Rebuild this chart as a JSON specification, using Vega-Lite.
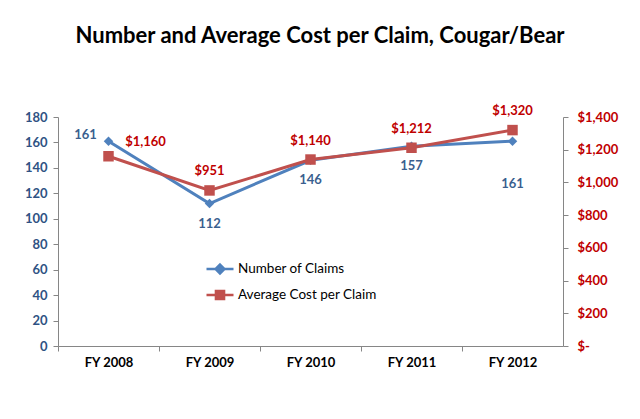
{
  "$schema": "https://vega.github.io/schema/vega-lite/v6.json",
  "autosize": "none",
  "width": 505,
  "height": 229,
  "padding": {"left": 58, "top": 117, "right": 77, "bottom": 73},
  "background": "white",
  "config": {"view": {"stroke": null}, "font": "Lato"},
  "title": {"text": "Number and Average Cost per Claim, Cougar/Bear", "font": "Lato", "fontSize": 22, "fontWeight": "bold", "color": "#000000", "anchor": "middle", "frame": "group", "dx": 9.5, "offset": 57},
  "data": {"values": [
    {"year": "FY 2008", "claims": 161, "cost": 1160},
    {"year": "FY 2009", "claims": 112, "cost": 951},
    {"year": "FY 2010", "claims": 146, "cost": 1140},
    {"year": "FY 2011", "claims": 157, "cost": 1212},
    {"year": "FY 2012", "claims": 161, "cost": 1320}
  ]},
  "encoding": {
    "x": {"field": "year", "type": "nominal", "scale": {"type": "band", "paddingInner": 0, "paddingOuter": 0},
      "axis": {"title": null, "labelAngle": 0, "labelFont": "Lato", "labelFontSize": 13, "labelFontWeight": "bold", "labelColor": "#000000", "domainColor": "#868686", "tickColor": "#868686", "tickSize": 5, "tickOffset": -50.5, "labelOffset": 50.5, "labelPadding": 5}}
  },
  "layer": [
    {
      "encoding": {
        "y": {"field": "claims", "type": "quantitative", "scale": {"domain": [0, 180]},
          "axis": {"title": null, "values": [0,20,40,60,80,100,120,140,160,180], "grid": false, "labelFont": "Lato", "labelFontSize": 13, "labelFontWeight": "bold", "labelColor": "#2F5283", "domainColor": "#868686", "tickColor": "#868686", "tickSize": 5, "labelPadding": 6}}
      },
      "layer": [
        {"mark": {"type": "line", "strokeWidth": 3}, "encoding": {"color": {"datum": "Number of Claims", "scale": {"domain": ["Number of Claims", "Average Cost per Claim"], "range": ["#4F81BD", "#C0504D"]},
          "legend": {"title": null, "orient": "none", "legendX": 147, "legendY": 137, "padding": 0, "rowPadding": 1, "symbolSize": 729, "symbolStrokeWidth": 2.5, "labelFont": "Lato", "labelFontSize": 13.5, "labelColor": "#000000", "labelOffset": 3,
            "encode": {"symbols": {"update": {
              "shape": {"signal": "datum.value === 'Number of Claims' ? 'M-1,0H1M0,-0.33L0.33,0L0,0.33L-0.33,0Z' : 'M-1,0H1M-0.3,-0.3H0.3V0.3H-0.3Z'"},
              "fill": {"signal": "datum.value === 'Number of Claims' ? '#4F81BD' : '#C0504D'"},
              "stroke": {"signal": "datum.value === 'Number of Claims' ? '#4F81BD' : '#C0504D'"},
              "opacity": {"value": 1}, "fillOpacity": {"value": 1}, "strokeOpacity": {"value": 1}}}}}}}},
        {"mark": {"type": "point", "shape": "diamond", "filled": true, "size": 90, "opacity": 1}, "encoding": {"color": {"datum": "Number of Claims"}}},
        {"transform": [{"filter": "datum.year === 'FY 2008'"}], "mark": {"type": "text", "dx": -23, "dy": -6, "font": "Lato", "fontSize": 13, "fontWeight": "bold", "color": "#3A5F8F"}, "encoding": {"text": {"field": "claims"}}},
        {"transform": [{"filter": "datum.year !== 'FY 2008' && datum.year !== 'FY 2012'"}], "mark": {"type": "text", "dy": 20, "font": "Lato", "fontSize": 13, "fontWeight": "bold", "color": "#3A5F8F"}, "encoding": {"text": {"field": "claims"}}},
        {"transform": [{"filter": "datum.year === 'FY 2012'"}], "mark": {"type": "text", "dy": 43, "font": "Lato", "fontSize": 13, "fontWeight": "bold", "color": "#3A5F8F"}, "encoding": {"text": {"field": "claims"}}}
      ]
    },
    {
      "encoding": {
        "y": {"field": "cost", "type": "quantitative", "scale": {"domain": [0, 1400]},
          "axis": {"title": null, "orient": "right", "values": [0,200,400,600,800,1000,1200,1400], "grid": false, "labelExpr": "datum.value === 0 ? '$-' : '$' + format(datum.value, ',')", "labelFont": "Lato", "labelFontSize": 13, "labelFontWeight": "bold", "labelColor": "#C00000", "domainColor": "#868686", "tickColor": "#868686", "tickSize": 5, "labelPadding": 9}}
      },
      "layer": [
        {"mark": {"type": "line", "strokeWidth": 3}, "encoding": {"color": {"datum": "Average Cost per Claim"}}},
        {"mark": {"type": "point", "shape": "square", "filled": true, "size": 110, "opacity": 1}, "encoding": {"color": {"datum": "Average Cost per Claim"}}},
        {"transform": [{"filter": "datum.year === 'FY 2008'"}], "mark": {"type": "text", "dx": 37, "dy": -14, "font": "Lato", "fontSize": 13, "fontWeight": "bold", "color": "#C00000"}, "encoding": {"text": {"field": "cost", "format": "$,.0f"}}},
        {"transform": [{"filter": "datum.year !== 'FY 2008'"}], "mark": {"type": "text", "dy": -19, "font": "Lato", "fontSize": 13, "fontWeight": "bold", "color": "#C00000"}, "encoding": {"text": {"field": "cost", "format": "$,.0f"}}}
      ]
    }
  ],
  "resolve": {"scale": {"y": "independent"}}
}
